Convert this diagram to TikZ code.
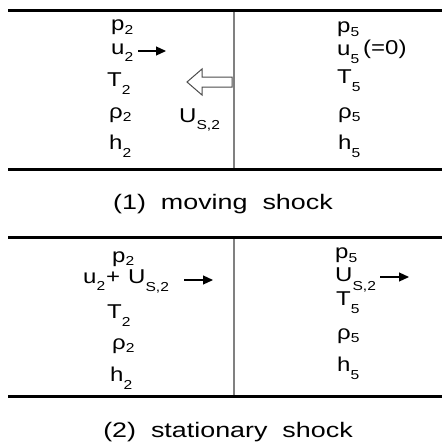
\documentclass[tikz,border=0pt]{standalone}
\usepackage{fontspec}
\setmainfont{Liberation Sans}[FakeStretch=1.2]
\newfontfamily\capfont{Liberation Sans}[FakeStretch=1.28]
\usetikzlibrary{arrows.meta}
\newcommand{\sbs}[2][8]{\raisebox{-#1pt}{\fontsize{13}{13}\selectfont #2}}
\begin{document}
\begin{tikzpicture}[x=1pt,y=-1pt,
  txt/.style={anchor=base west, inner sep=0pt, font=\fontsize{20}{20}\selectfont},
  captxt/.style={anchor=base, inner sep=0pt, font=\capfont\fontsize{21}{21}\selectfont},
  wall/.style={line width=3pt, black},
  shockline/.style={draw=gray, line width=1.3pt},
  flow/.style={-{Triangle[length=10pt,width=9pt]}, line width=1.2pt},
  hollow/.style={draw=gray!60!black, line width=1pt, fill=white}]
\useasboundingbox (0,0) rectangle (442,447);
\fill[white] (0,0) rectangle (442,447);

% ---------- panel 1: moving shock ----------
\coordinate (w1tl) at (8,10);   \coordinate (w1tr) at (442,10);
\coordinate (w1bl) at (8,169);  \coordinate (w1br) at (442,169);
\coordinate (s1t) at (234,10);  \coordinate (s1b) at (234,169);
\draw[shockline] (s1t) -- (s1b);
\draw[wall] (w1tl) -- (w1tr);
\draw[wall] (w1bl) -- (w1br);

\node[txt] (p2a) at (111,30)  {p\sbs[4]{2}};
\node[txt] (u2a) at (111,54)  {u\sbs[7]{2}};
\node[txt] (T2a) at (107,86)  {T\sbs[8]{2}};
\node[txt] (r2a) at (109,118) {ρ\sbs[3]{2}};
\node[txt] (h2a) at (109,149) {h\sbs[8]{2}};
\coordinate (fa1s) at (138,51); \coordinate (fa1e) at (166,51);
\draw[flow] (fa1s) -- (fa1e);

\draw[hollow] (187,82) -- (202,69) -- (202,77) -- (232,77) -- (232,87)
  -- (202,87) -- (202,95) -- cycle;
\node[txt] (us1) at (179,122) {U\sbs[7]{S,2}};

\node[txt] (p5a) at (337,32)  {p\sbs[4]{5}};
\node[txt] (u5a) at (337,55)  {u\sbs[8]{5}};
\node[txt] (z5a) at (363,54)  {(=0)};
\node[txt] (T5a) at (337,83)  {T\sbs[8]{5}};
\node[txt] (r5a) at (338,118) {ρ\sbs[3]{5}};
\node[txt] (h5a) at (338,149) {h\sbs[8]{5}};

\node[captxt] (cap1) at (223,209) {(1)\ \ moving\ \ shock};

% ---------- panel 2: stationary shock ----------
\coordinate (w2tl) at (8,237);  \coordinate (w2tr) at (442,237);
\coordinate (w2bl) at (8,396);  \coordinate (w2br) at (442,396);
\coordinate (s2t) at (234,237); \coordinate (s2b) at (234,396);
\draw[shockline] (s2t) -- (s2b);
\draw[wall] (w2tl) -- (w2tr);
\draw[wall] (w2bl) -- (w2br);

\node[txt] (p2b) at (112,262) {p\sbs[3]{2}};
\node[txt] (u2b) at (83,283)  {u\sbs[7]{2}};
\node[txt] (plb) at (106,283) {+};
\node[txt] (Usb) at (128,283) {U\sbs[8]{S,2}};
\coordinate (fa2s) at (184,280); \coordinate (fa2e) at (213,280);
\draw[flow] (fa2s) -- (fa2e);
\node[txt] (T2b) at (107,318) {T\sbs[8]{2}};
\node[txt] (r2b) at (112,349) {ρ\sbs[3]{2}};
\node[txt] (h2b) at (110,381) {h\sbs[8]{2}};

\node[txt] (p5b) at (335,258) {p\sbs[4]{5}};
\node[txt] (U5b) at (335,281) {U\sbs[9]{S,2}};
\coordinate (fa3s) at (380,277); \coordinate (fa3e) at (409,277);
\draw[flow] (fa3s) -- (fa3e);
\node[txt] (T5b) at (336,305) {T\sbs[8]{5}};
\node[txt] (r5b) at (337,339) {ρ\sbs[3]{5}};
\node[txt] (h5b) at (337,371) {h\sbs[8]{5}};

\node[captxt] (cap2) at (228,437) {(2)\ \ stationary\ \ shock};
\end{tikzpicture}
\end{document}
